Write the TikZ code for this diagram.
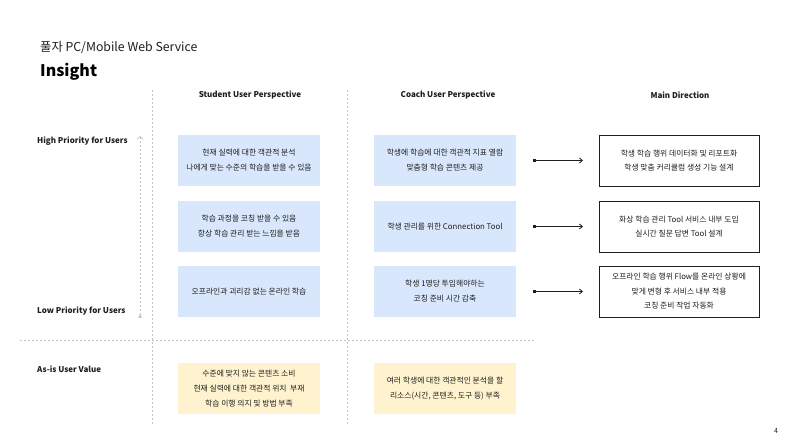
\documentclass[tikz,border=0pt]{standalone}
\usepackage{fontspec}
\setmainfont{Noto Sans CJK KR}
\usetikzlibrary{arrows.meta, positioning}
\definecolor{CardBlue}{RGB}{217,231,252}
\definecolor{CardYellow}{RGB}{255,243,207}
\definecolor{GuideGray}{RGB}{195,195,195}
\definecolor{InkDark}{RGB}{30,30,30}
\tikzset{
  card/.style={rectangle, minimum width=142pt, minimum height=51pt,
    inner sep=0pt, outer sep=0pt, align=center, text=InkDark,
    font=\fontsize{7.8}{15}\selectfont},
  need/.style={card, fill=CardBlue},
  asis/.style={card, fill=CardYellow},
  direction/.style={card, minimum width=160pt, draw=InkDark, line width=0.8pt,
    font=\fontsize{7.8}{14.5}\selectfont},
  colhead/.style={font=\bfseries\fontsize{8}{9}\selectfont, text=InkDark},
  rowhead/.style={font=\bfseries\fontsize{8}{9}\selectfont, text=InkDark,
    anchor=west, inner sep=0pt},
  guide/.style={GuideGray, line width=0.6pt, dash pattern=on 2pt off 2pt},
  flow/.style={{Square[length=2.5pt,width=3pt]}-{Straight Barb[length=3pt,width=5pt]},
    line width=0.8pt, InkDark},
}
\begin{document}
\begin{tikzpicture}[x=1pt, y=-1pt]
  \useasboundingbox[fill=white] (0,0) rectangle (796,446);
  % title
  \node[anchor=west, inner sep=0pt, font=\fontsize{12.3}{14}\selectfont, text=InkDark]
    (subtitle) at (40,48) {풀자 PC/Mobile Web Service};
  \node[anchor=west, inner sep=0pt, font=\bfseries\fontsize{16}{18}\selectfont, text=black]
    (title) at (40,72) {Insight};
  % grid lines
  \coordinate (g1t) at (152,90);  \coordinate (g1b) at (152,425);
  \coordinate (g2t) at (347,90);  \coordinate (g2b) at (347,425);
  \coordinate (hl) at (20,340);   \coordinate (hr) at (535,340);
  \draw[guide] (g1t) -- (g1b);
  \draw[guide] (g2t) -- (g2b);
  \draw[guide] (hl) -- (hr);
  % column heads
  \node[colhead] (hStu) at (250,95) {Student User Perspective};
  \node[colhead] (hCoa) at (448,95) {Coach User Perspective};
  \node[colhead] (hDir) at (680,95) {Main Direction};
  % row heads
  \node[rowhead] (rHigh) at (37,141) {High Priority for Users};
  \node[rowhead] (rLow)  at (37,311) {Low Priority for Users};
  \node[rowhead] (rAsis) at (37,369) {As-is User Value};
  % priority axis
  \coordinate (axLow) at (140,318);
  \coordinate (axHigh) at (140,136);
  \draw[guide, {Triangle[reversed,length=4pt,width=3.5pt,fill=GuideGray]}-{Straight Barb[length=3pt,width=6pt]}]
    (axLow) -- (axHigh);
  % student column
  \node[need, anchor=north west] (s1) at (178,135)
    {현재 실력에 대한 객관적 분석\\나에게 맞는 수준의 학습을 받을 수 있음};
  \node[need, below=15pt of s1] (s2)
    {학습 과정을 코칭 받을 수 있음\\항상 학습 관리 받는 느낌을 받음};
  \node[need, below=14pt of s2] (s3)
    {오프라인과 괴리감 없는 온라인 학습};
  % coach column
  \node[need, right=54pt of s1] (c1)
    {학생에 학습에 대한 객관적 지표 열람\\맞춤형 학습 콘텐츠 제공};
  \node[need, right=54pt of s2] (c2)
    {학생 관리를 위한 Connection Tool};
  \node[need, right=54pt of s3] (c3)
    {학생 1명당 투입해야하는\\코칭 준비 시간 감축};
  % main direction
  \node[direction, right=83pt of c1] (d1)
    {학생 학습 행위 데이터화 및 리포트화\\학생 맞춤 커리큘럼 생성 기능 설계};
  \node[direction, right=83pt of c2] (d2)
    {화상 학습 관리 Tool 서비스 내부 도입\\실시간 질문 답변 Tool 설계};
  \node[direction, right=83pt of c3] (d3)
    {오프라인 학습 행위 Flow를 온라인 상황에\\맞게 변형 후 서비스 내부 적용\\코칭 준비 작업 자동화};
  \foreach \i in {1,2,3}
    \draw[flow] ([xshift=17pt]c\i.east) -- ([xshift=-16pt]d\i.west);
  % as-is row
  \node[asis, anchor=north west] (a1) at (178,363)
    {수준에 맞지 않는 콘텐츠 소비\\현재 실력에 대한 객관적 위치 \ 부재\\학습 이행 의지 및 방법 부족};
  \node[asis, right=54pt of a1] (a2)
    {여러 학생에 대한 객관적인 분석을 할\\리소스(시간, 콘텐츠, 도구 등) 부족};
  % page number
  \node[font=\fontsize{7}{8}\selectfont, text=InkDark] (page) at (776,431) {4};
\end{tikzpicture}
\end{document}
